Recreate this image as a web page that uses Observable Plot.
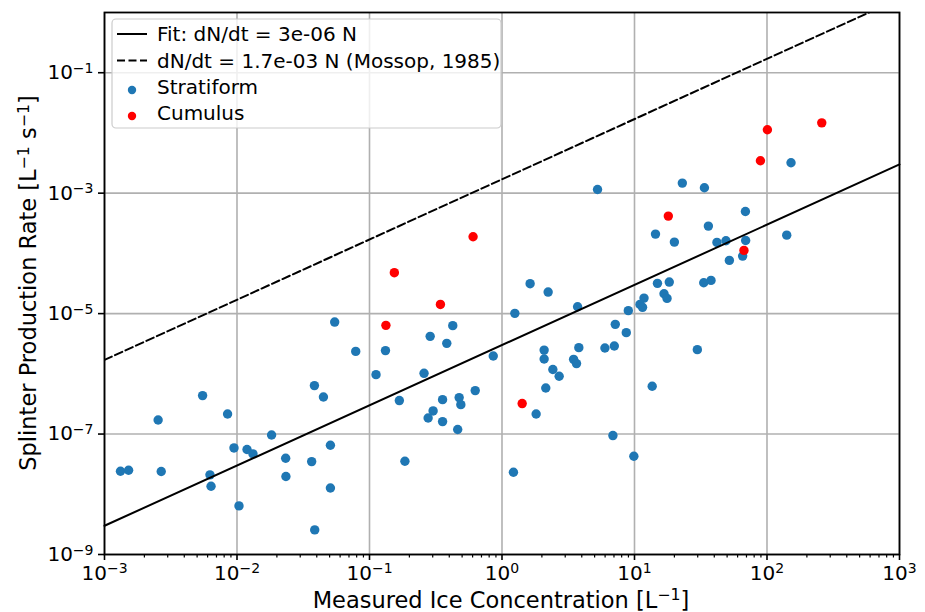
<!DOCTYPE html>
<html>
<head>
<meta charset="utf-8">
<script src="https://cdn.jsdelivr.net/npm/d3@7"></script>
<script src="https://cdn.jsdelivr.net/npm/@observablehq/plot@0.6"></script>
<style>
  html, body { margin: 0; padding: 0; background: white; }
  #chart { width: 925px; height: 612px; }
</style>
</head>
<body>
<div id="chart"></div>
<script>
// ---- Data ----
const stratX = [0.0546, 0.0787, 0.00254, 0.0055, 0.00849, 0.0384, 0.0449, 0.01824, 0.00949, 0.0119,
  0.0132, 0.0507, 0.0233, 0.0366, 0.00132, 0.00152, 0.00268, 0.00625, 0.00637, 0.0234,
  0.0507, 0.01035, 0.0386, 1.63, 2.23, 1.25, 3.72, 8.98, 7.16, 8.67,
  5.98, 7.04, 3.80, 2.08, 2.08, 3.47, 3.65, 2.42, 2.70, 2.14,
  1.81, 6.87, 9.89, 0.425, 0.287, 0.383, 0.132, 0.112, 0.258, 0.859,
  0.628, 0.168, 0.356, 0.475, 0.489, 0.302, 0.277, 0.356, 0.463, 0.185,
  1.22, 151.8, 22.96, 33.7, 68.7, 36.1, 14.4, 20.0, 41.9, 49.0,
  69.0, 140.9, 65.5, 52.0, 14.9, 18.3, 33.3, 37.8, 16.7, 17.6,
  11.8, 11.0, 11.5, 29.8, 13.6, 5.26];
const stratY = [7.24e-6, 2.36e-6, 1.71e-7, 4.35e-7, 2.15e-7, 6.38e-7, 4.12e-7, 9.66e-8, 5.88e-8, 5.53e-8,
  4.68e-8, 6.52e-8, 3.97e-8, 3.49e-8, 2.41e-8, 2.51e-8, 2.39e-8, 2.10e-8, 1.36e-8, 1.97e-8,
  1.27e-8, 6.41e-9, 2.56e-9, 3.14e-5, 2.28e-5, 1.01e-5, 1.30e-5, 1.12e-5, 6.63e-6, 4.83e-6,
  2.68e-6, 2.90e-6, 2.72e-6, 2.48e-6, 1.76e-6, 1.74e-6, 1.48e-6, 1.18e-6, 9.10e-7, 5.82e-7,
  2.15e-7, 9.44e-8, 4.28e-8, 6.31e-6, 4.19e-6, 3.21e-6, 2.43e-6, 9.70e-7, 1.02e-6, 1.98e-6,
  5.27e-7, 3.60e-7, 3.73e-7, 4.03e-7, 3.08e-7, 2.42e-7, 1.85e-7, 1.61e-7, 1.19e-7, 3.53e-8,
  2.32e-8, 3.20e-3, 1.47e-3, 1.23e-3, 4.97e-4, 2.84e-4, 2.09e-4, 1.54e-4, 1.52e-4, 1.62e-4,
  1.64e-4, 2.01e-4, 9.01e-5, 7.65e-5, 3.18e-5, 3.34e-5, 3.26e-5, 3.56e-5, 2.14e-5, 1.79e-5,
  1.81e-5, 1.42e-5, 1.27e-5, 2.52e-6, 6.21e-7, 1.15e-3];
const cumX = [0.605, 0.154, 0.343, 0.133, 1.42, 100.7, 259, 89.2, 18.0, 67.0];
const cumY = [1.89e-4, 4.78e-5, 1.42e-5, 6.38e-6, 3.21e-7, 1.13e-2, 1.47e-2, 3.45e-3, 4.16e-4, 1.12e-4];

const fitSlope = 3e-6;      // Fit: dN/dt = 3e-06 N
const mossopSlope = 1.7e-3; // dN/dt = 1.7e-03 N (Mossop, 1985)
const lineX = [1e-3, 1e3];

const xTicks = [1e-3, 1e-2, 1e-1, 1, 10, 100, 1000];
const xTickLabels = ["10^−3", "10^−2", "10^−1", "10^0", "10^1", "10^2", "10^3"];
const yTicks = [1e-9, 1e-7, 1e-5, 1e-3, 1e-1];
const yTickLabels = ["10^−9", "10^−7", "10^−5", "10^−3", "10^−1"];

const legendLabels = ["Fit: dN/dt = 3e-06 N", "dN/dt = 1.7e-03 N (Mossop, 1985)", "Stratiform", "Cumulus"];
const xLabel = ["Measured Ice Concentration [L", "−1", "]"];
const yLabel = ["Splinter Production Rate [L", "−1", " s", "−1", "]"];

// ---- Build tables ----
const strat = stratX.map((x, i) => ({x, y: stratY[i]}));
const cum = cumX.map((x, i) => ({x, y: cumY[i]}));
const fitLine = lineX.map(x => ({x, y: fitSlope * x}));
const mossLine = lineX.map(x => ({x, y: mossopSlope * x}));
const xMinor = [];
for (let e = -3; e < 3; e++) for (let m = 2; m <= 9; m++) xMinor.push(m * Math.pow(10, e));

const blue = "#1f77b4", red = "#ff0000", gridC = "#b0b0b0";
const FONT = "DejaVu Sans";

const chart = Plot.plot({
  width: 925, height: 612,
  marginLeft: 104, marginRight: 26, marginTop: 12, marginBottom: 58,
  style: {fontFamily: FONT, fontSize: "20px", background: "white", color: "black"},
  x: {type: "log", domain: [1e-3, 1e3]},
  y: {type: "log", domain: [1e-9, 1]},
  marks: [
    Plot.gridX(xTicks, {stroke: gridC, strokeOpacity: 1, strokeWidth: 1.6}),
    Plot.gridY(yTicks, {stroke: gridC, strokeOpacity: 1, strokeWidth: 1.6}),
    Plot.dot(strat, {x: "x", y: "y", r: 4.7, fill: blue, stroke: "none"}),
    Plot.dot(cum, {x: "x", y: "y", r: 4.7, fill: red, stroke: "none"}),
    Plot.line(fitLine, {x: "x", y: "y", stroke: "black", strokeWidth: 2}),
    Plot.line(mossLine, {x: "x", y: "y", stroke: "black", strokeWidth: 2, strokeDasharray: "8,3.5", clip: true}),
    Plot.axisX(xMinor, {tickSize: 3.5, strokeWidth: 1.2, tickFormat: () => "", label: null}),
    Plot.axisX(xTicks, {tickSize: 6, strokeWidth: 1.6, tickPadding: 5, fontSize: 20, label: null,
      tickFormat: d => xTickLabels[xTicks.indexOf(d)]}),
    Plot.axisY(yTicks, {tickSize: 6, strokeWidth: 1.6, tickPadding: 5, fontSize: 20, label: null,
      tickFormat: d => yTickLabels[yTicks.indexOf(d)]}),
    Plot.frame({stroke: "black", strokeWidth: 1.8})
  ]
});
document.getElementById("chart").appendChild(chart);

const svg = d3.select(chart);

// superscripts in tick labels
svg.selectAll("text").each(function() {
  const t = d3.select(this);
  const s = t.text();
  if (s.includes("^")) {
    const [base, sup] = s.split("^");
    t.text(base);
    t.append("tspan").attr("dy", "-0.45em").attr("font-size", "0.7em").text(sup);
  }
});

// axis labels
const xl = svg.append("text")
  .attr("x", 501).attr("y", 607.5).attr("text-anchor", "middle")
  .attr("font-family", FONT).attr("font-size", 22.5).attr("fill", "black");
xl.append("tspan").text(xLabel[0]);
xl.append("tspan").attr("dy", "-0.45em").attr("font-size", "0.7em").text(xLabel[1]);
xl.append("tspan").attr("dy", "0.315em").text(xLabel[2]);

const yl = svg.append("text")
  .attr("transform", "translate(36,283) rotate(-90)").attr("text-anchor", "middle")
  .attr("font-family", FONT).attr("font-size", 22.5).attr("fill", "black");
yl.append("tspan").text(yLabel[0]);
yl.append("tspan").attr("dy", "-0.45em").attr("font-size", "0.7em").text(yLabel[1]);
yl.append("tspan").attr("dy", "0.315em").text(yLabel[2]);
yl.append("tspan").attr("dy", "-0.45em").attr("font-size", "0.7em").text(yLabel[3]);
yl.append("tspan").attr("dy", "0.315em").text(yLabel[4]);

// legend
const lg = svg.append("g").attr("font-family", FONT).attr("font-size", 20).attr("text-anchor", "start");
lg.append("rect").attr("x", 112).attr("y", 19).attr("width", 389).attr("height", 109)
  .attr("rx", 4).attr("fill", "white").attr("fill-opacity", 0.8)
  .attr("stroke", "#cccccc").attr("stroke-width", 1.2);
const rows = [34, 60.5, 87, 113];
lg.append("line").attr("x1", 117).attr("x2", 147).attr("y1", rows[0]).attr("y2", rows[0])
  .attr("stroke", "black").attr("stroke-width", 2);
lg.append("line").attr("x1", 117).attr("x2", 147).attr("y1", rows[1]).attr("y2", rows[1])
  .attr("stroke", "black").attr("stroke-width", 2).attr("stroke-dasharray", "8,3.5");
lg.append("circle").attr("cx", 132).attr("cy", rows[2] + 3).attr("r", 4.2).attr("fill", blue);
lg.append("circle").attr("cx", 132).attr("cy", rows[3] + 3).attr("r", 4.2).attr("fill", red);
legendLabels.forEach((s, i) => {
  lg.append("text").attr("x", 157).attr("y", rows[i]).attr("dy", "0.35em")
    .attr("text-anchor", "start").attr("fill", "black").text(s);
});
</script>
</body>
</html>
